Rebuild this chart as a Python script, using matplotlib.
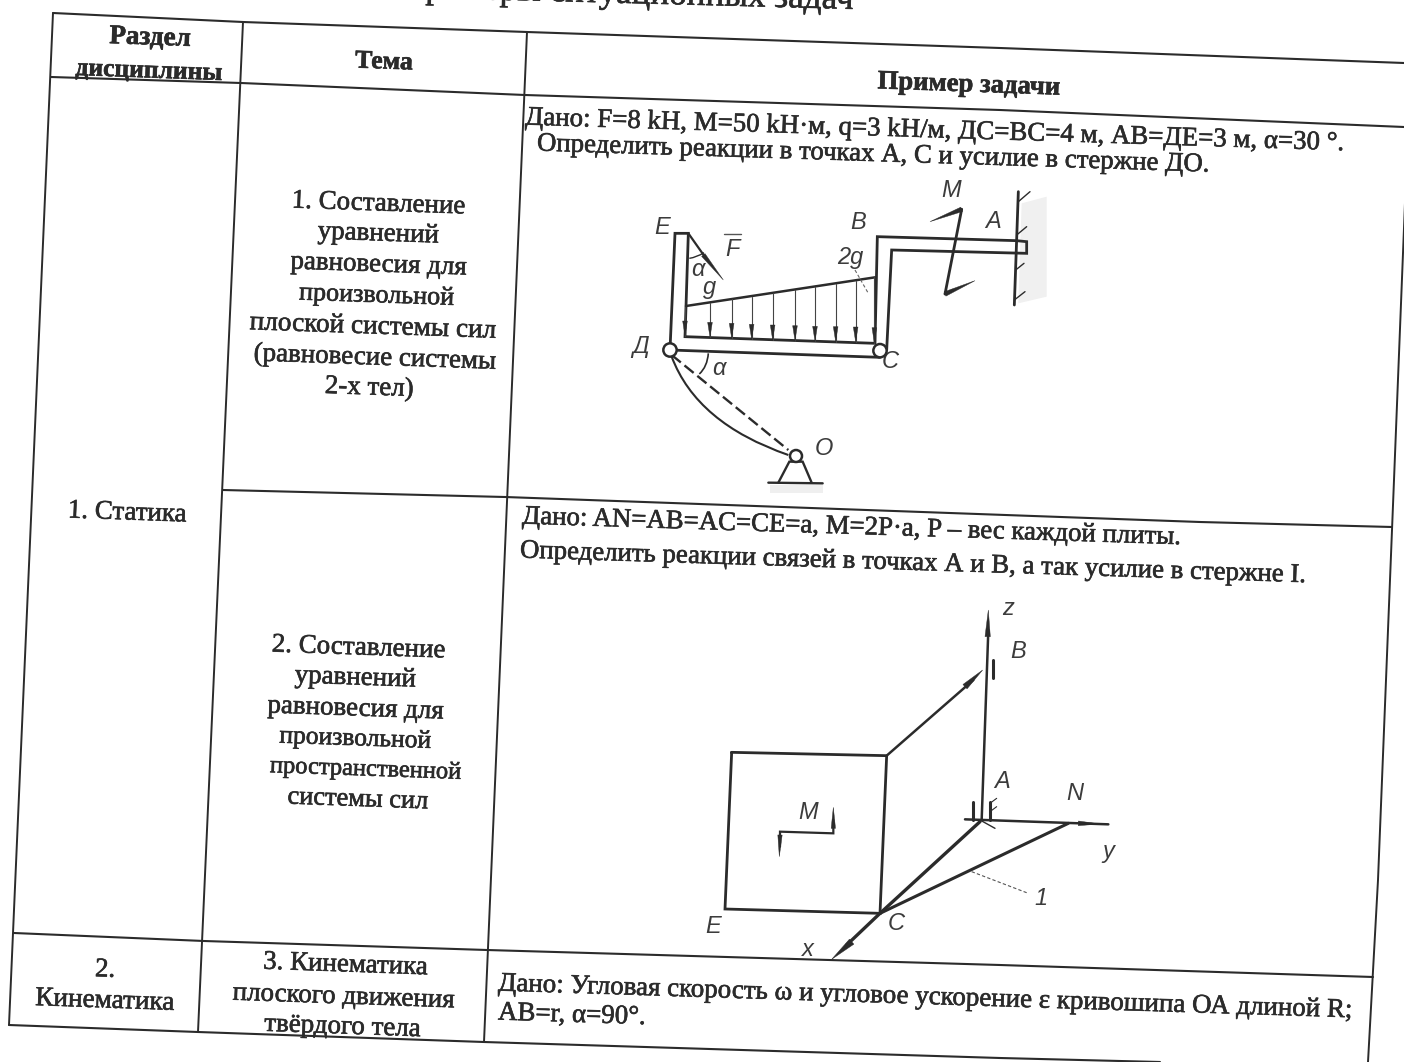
import numpy as np
import matplotlib
matplotlib.use("Agg")
import matplotlib.pyplot as plt
import matplotlib.patheffects as pe
from matplotlib.patches import Polygon, Circle, PathPatch
from matplotlib.path import Path

W, H = 1404, 1062
INK = "#2b2b2b"
SERIF = ["Liberation Serif", "DejaVu Serif"]
SANS = ["Liberation Sans Narrow", "Liberation Sans", "DejaVu Sans"]

# ---- table rules (page is skewed) ----
top_rule = [(53, 13), (243, 22), (527, 32), (1000, 48), (1404, 63)]
head_rule = [(51, 77), (241, 83), (525, 95), (1000, 110), (1404, 127)]
mid_rule = [(223, 490), (505, 497), (1200, 522), (1392, 527)]
row_rule = [(14, 933), (204, 941), (487, 950), (1000, 965), (1373, 977)]
bottom_rule = [(9, 1025), (198, 1032), (484, 1042), (1000, 1058), (1160, 1062)]
left_rule = [(53, 13), (9, 1025)]
col1_rule = [(243, 22), (198, 1032)]
col2_rule = [(527, 32), (484, 1042)]
right_rule = [(1408, 127), (1394, 480), (1378, 880), (1368, 1062)]

# ---- text: (string, x, y, size, bold) ----
centered = [
    ("Раздел", 150, 38, 19.5, True),
    ("дисциплины", 149, 71, 18.4, True),
    ("Тема", 384, 62, 18.5, True),
    ("Пример задачи", 969, 85, 19.2, True),
    ("1. Составление", 378, 204, 19.4, False),
    ("уравнений", 378, 234, 19.4, False),
    ("равновесия для", 378, 265, 19.4, False),
    ("произвольной", 377, 296, 18.8, False),
    ("плоской системы сил", 373, 327, 19.6, False),
    ("(равновесие системы", 374, 358, 19.4, False),
    ("2-х тел)", 369, 388, 19.4, False),
    ("1. Статика", 127, 513, 19.4, False),
    ("2. Составление", 358, 648, 19.4, False),
    ("уравнений", 355, 678, 19.4, False),
    ("равновесия для", 355, 709, 19.4, False),
    ("произвольной", 355, 739, 18.4, False),
    ("пространственной", 365, 770, 17.6, False),
    ("системы сил", 358, 800, 19, False),
    ("2.", 105, 970, 19.4, False),
    ("Кинематика", 105, 1001, 19.6, False),
    ("3. Кинематика", 345, 965, 19.4, False),
    ("плоского движения", 343, 997, 19.4, False),
    ("твёрдого тела", 342, 1027, 19.4, False),
]
left_text = [
    ("Дано: F=8 kH, M=50 kH·м, q=3 kH/м, ДС=ВС=4 м, АВ=ДЕ=3 м, α=30 °.", 525, 118, 19.35),
    ("Определить реакции в точках А, С и усилие в стержне ДО.", 537, 144, 19.3),
    ("Дано: AN=AB=AC=CE=a, M=2P·a, P – вес каждой плиты.", 522, 517, 19.3),
    ("Определить реакции связей в точках А и В, а так усилие в стержне I.", 520, 551, 19.3),
    ("Дано: Угловая скорость ω и угловое ускорение ε кривошипа ОА длиной R;", 498, 984, 19.4),
    ("АВ=r, α=90°.", 498, 1013, 19.4),
]
title_text = "Примеры ситуационных задач"

# ---- diagram 1 geometry, page pixels = offset + value / 3 ----
D1 = (600, 170)
frame_outer = [(210, 540), (225, 190), (265, 190), (258, 410), (255, 500), (825, 520),
               (832, 200), (1250, 212), (1280, 215), (1280, 250), (875, 240), (860, 540)]
frame_bottom = [(210, 540), (840, 562)]
load_top = [(258, 408), (825, 322)]
load_x = [255, 330, 395, 455, 518, 585, 645, 707, 767, 823]
load_y0 = [410, 398, 388, 380, 370, 360, 350, 342, 332, 322]
load_y1 = [498, 502, 505, 508, 510, 512, 514, 515, 516, 518]
moment_line = [(1085, 118), (1035, 372)]
wall = [(1255, 65), (1243, 405)]
wall_ticks = [((1255, 95), (1290, 65)), ((1250, 195), (1280, 170)), ((1247, 300), (1272, 280)), ((1243, 390), (1275, 365))]
rod_curve = [(215, 560), (290, 760), (565, 855)]
rod_dash = [(215, 555), (565, 840)]
angle_arc = [(325, 550), (322, 590), (298, 612)]
f_arc = [(268, 265), (290, 262), (312, 248)]
support = [(535, 938), (568, 875), (608, 875), (635, 938)]
ground = [(505, 938), (668, 940)]
pins = [(210, 540, 20), (840, 542, 20), (588, 858, 18)]
labels1 = [("E", 187, 172), ("F", 396, 238), ("B", 775, 158), ("M", 1052, 62), ("A", 1180, 155),
           ("2g", 750, 262), ("α", 295, 298), ("g", 330, 352), ("Д", 122, 528), ("α", 358, 595),
           ("C", 872, 575), ("O", 672, 835)]

# ---- diagram 2 geometry ----
D2 = (680, 590)
plate = [(155, 487), (620, 497), (600, 970), (135, 957)]
z_axis = [(905, 690), (925, 120)]
tie = [(620, 497), (880, 270)]
y_axis = [(855, 688), (1285, 703)]
ca = [(600, 970), (900, 695)]
cn = [(600, 970), (1165, 700)]
x_axis = [(600, 970), (500, 1065)]
leader = [(875, 845), (1045, 910)]
m_bracket = [(300, 770), (300, 725), (460, 730), (460, 690)]
labels2 = [("z", 985, 55), ("B", 1015, 185), ("A", 967, 575), ("N", 1185, 610), ("y", 1285, 785),
           ("M", 385, 668), ("1", 1082, 925), ("E", 100, 1010), ("C", 650, 1000), ("x", 385, 1080)]

fig = plt.figure(figsize=(W / 100, H / 100), dpi=100, facecolor="white")
ax = fig.add_axes([0, 0, 1, 1])
ax.set_xlim(0, W)
ax.set_ylim(H, 0)
ax.axis("off")

heavy = [pe.withStroke(linewidth=0.45, foreground=INK)]


def rule(pts, lw=1.5, color=INK, **kw):
    a = np.array(pts, float)
    ax.plot(a[:, 0], a[:, 1], color=color, lw=lw, solid_capstyle="round", solid_joinstyle="miter", **kw)


def conv(pts, off):
    return [(off[0] + x / 3, off[1] + y / 3) for x, y in pts]


def curve(pts, off, lw):
    p = conv(pts, off)
    ax.add_patch(PathPatch(Path(p, [Path.MOVETO, Path.CURVE3, Path.CURVE3]), fc="none", ec=INK, lw=lw))


def wedge(tip, base, width, off, color=INK):
    t, b = np.array(tip, float), np.array(base, float)
    d = (t - b) / np.linalg.norm(t - b)
    n = np.array([-d[1], d[0]]) * width / 2
    ax.add_patch(Polygon(conv([tuple(t), tuple(b + n), tuple(b - n)], off), closed=True, fc=color, ec=color, lw=0.3, zorder=4))


for r in (top_rule, head_rule, mid_rule, row_rule, bottom_rule):
    rule(r, 1.5)
for r in (left_rule, col1_rule, col2_rule, right_rule):
    rule(r, 1.4)

ax.text(627, 3, title_text, family=SERIF, fontsize=25.3, color=INK, ha="center", va="baseline",
        rotation=-1.5, rotation_mode="anchor", path_effects=heavy)

for s, x, y, fs, bold in centered:
    ax.text(x, y, s, family=SERIF, fontsize=fs, fontweight="bold" if bold else "normal", color=INK,
            ha="center", va="center", rotation=-2, rotation_mode="anchor", path_effects=heavy)
for s, x, y, fs in left_text:
    ax.text(x, y, s, family=SERIF, fontsize=fs, color=INK, ha="left", va="center",
            rotation=-1.8, rotation_mode="anchor", path_effects=heavy)

# diagram 1
ax.add_patch(Polygon(conv([(1265, 100), (1340, 80), (1340, 380), (1255, 400)], D1), closed=True, fc="#f0f0f0", ec="none", zorder=0))
ax.add_patch(Polygon(conv([(510, 945), (670, 945), (670, 970), (510, 970)], D1), closed=True, fc="#efefef", ec="none", zorder=0))
rule(conv(frame_outer, D1), 2.0)
rule(conv(frame_bottom, D1), 2.0)
rule(conv(load_top, D1), 1.8)
for x, y0, y1 in zip(load_x, load_y0, load_y1):
    rule(conv([(x, y0), (x, y1)], D1), 0.8, color="#444444")
    wedge((x, y1), (x, y1 - 45), 14, D1)
rule(conv(moment_line, D1), 2.0)
wedge((990, 155), (1085, 118), 14, D1)
rule(conv([(1060, 128), (1085, 118)], D1), 1.8)
wedge((1125, 332), (1035, 372), 14, D1)
rule(conv([(1035, 372), (1060, 360)], D1), 1.8)
rule(conv(wall, D1), 2.0)
for a, b in wall_ticks:
    rule(conv([a, b], D1), 1.0)
rule(conv([(265, 190), (320, 268)], D1), 1.6)
wedge((370, 330), (310, 255), 13, D1)
curve(f_arc, D1, 1.0)
curve(angle_arc, D1, 1.2)
curve(rod_curve, D1, 1.5)
a = np.array(conv(rod_dash, D1))
ax.plot(a[:, 0], a[:, 1], color=INK, lw=1.7, dashes=(5, 2))
rule(conv(support, D1), 1.7)
rule(conv(ground, D1), 1.7)
a = np.array(conv([(765, 300), (805, 370)], D1))
ax.plot(a[:, 0], a[:, 1], color="#666666", lw=0.8, dashes=(3, 2))
for x, y, r in pins:
    (cx, cy), = conv([(x, y)], D1)
    ax.add_patch(Circle((cx, cy), r / 3, fc="white", ec=INK, lw=1.8, zorder=5))
for s, x, y in labels1:
    (cx, cy), = conv([(x, y)], D1)
    ax.text(cx, cy, s, family=SANS, style="italic", fontsize=17, color="#3c3c3c", ha="center", va="center")
rule(conv([(372, 192), (422, 192)], D1), 1.0, color="#555555")

# diagram 2
rule(conv(plate + plate[:1], D2), 2.0)
rule(conv(z_axis, D2), 1.8)
wedge((925, 60), (923, 140), 16, D2)
rule(conv(tie, D2), 1.8)
wedge((908, 240), (855, 290), 18, D2)
rule(conv(y_axis, D2), 1.8)
wedge((1260, 702), (1195, 700), 14, D2)
rule(conv(ca, D2), 2.4)
rule(conv(cn, D2), 2.2)
rule(conv(x_axis, D2), 2.4)
wedge((455, 1108), (515, 1055), 20, D2)
a = np.array(conv(leader, D2))
ax.plot(a[:, 0], a[:, 1], color="#555555", lw=0.8, dashes=(3, 2))
rule(conv(m_bracket, D2), 1.6)
wedge((298, 800), (300, 735), 13, D2)
wedge((460, 652), (460, 715), 13, D2)
for seg, lw in [([(940, 210), (940, 265)], 2.2), ([(880, 635), (880, 690)], 2.2),
                ([(930, 635), (930, 690)], 2.2), ([(900, 690), (945, 715)], 1.0),
                ([(930, 640), (950, 625)], 0.8), ([(930, 665), (950, 650)], 0.8)]:
    rule(conv(seg, D2), lw)
for s, x, y in labels2:
    (cx, cy), = conv([(x, y)], D2)
    ax.text(cx, cy, s, family=SANS, style="italic", fontsize=17, color="#3c3c3c", ha="center", va="center")

fig.savefig("out.png", dpi=100, facecolor="white")
